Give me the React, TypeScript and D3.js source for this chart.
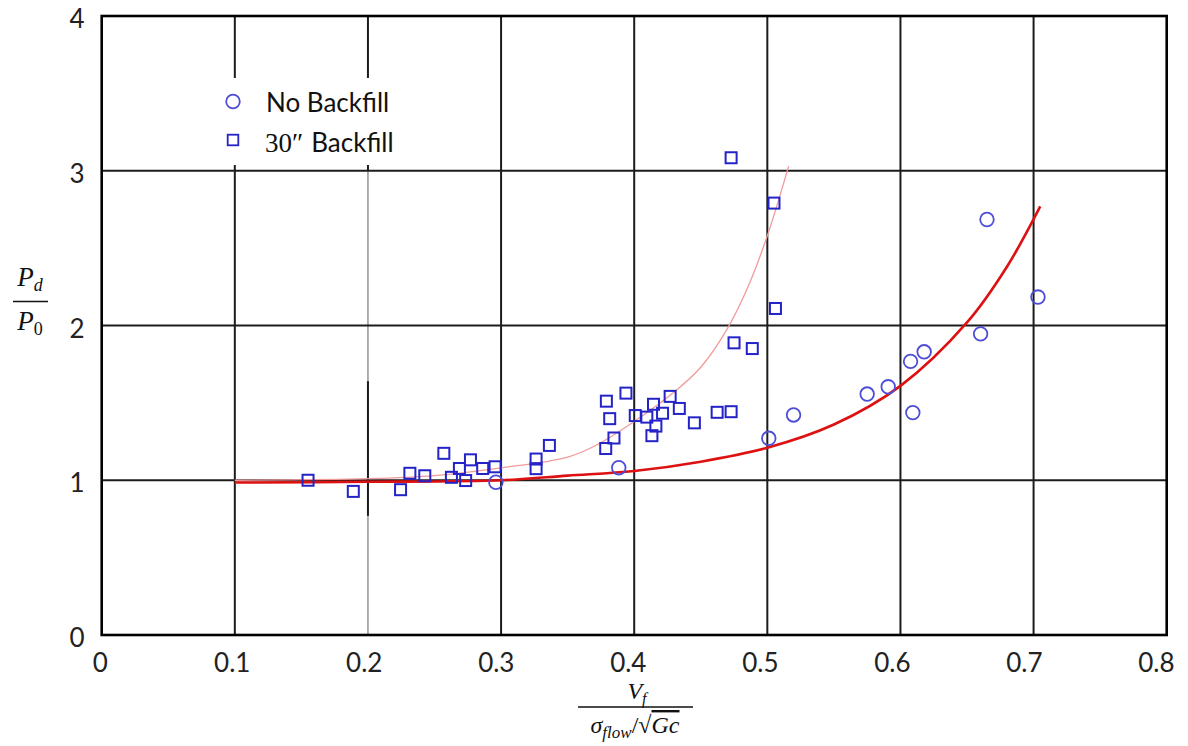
import React from "react";
import * as d3 from "d3";

// ---- data ----
const xTickValues = [0, 0.1, 0.2, 0.3, 0.4, 0.5, 0.6, 0.7, 0.8];
const xTickLabels = ["0", "0.1", "0.2", "0.3", "0.4", "0.5", "0.6", "0.7", "0.8"];
const yTickValues = [0, 1, 2, 3, 4];
const yTickLabels = ["0", "1", "2", "3", "4"];

// 30" Backfill (squares)
const backfillX = [0.155, 0.189, 0.2245, 0.2315, 0.2427, 0.257, 0.2627, 0.2687, 0.2734, 0.277, 0.2862, 0.2955,
  0.3263, 0.3263, 0.3363, 0.3786, 0.3791, 0.3816, 0.3848, 0.3938, 0.4008, 0.4095, 0.4145, 0.4133, 0.4163,
  0.4213, 0.427, 0.4339, 0.4452, 0.4623, 0.4728, 0.4728, 0.475, 0.4887, 0.505, 0.5061];
const backfillY = [1.0, 0.928, 0.939, 1.045, 1.029, 1.174, 1.019, 1.076, 0.998, 1.132, 1.076, 1.087,
  1.137, 1.075, 1.225, 1.205, 1.511, 1.398, 1.273, 1.563, 1.418, 1.408, 1.491, 1.288, 1.35,
  1.433, 1.542, 1.464, 1.371, 1.439, 1.443, 3.084, 1.888, 1.851, 2.791, 2.11];

// No Backfill (circles)
const noBackfillX = [0.2961, 0.3884, 0.5011, 0.5197, 0.575, 0.5908, 0.6076, 0.6093, 0.6178, 0.6602, 0.665, 0.7033];
const noBackfillY = [0.987, 1.081, 1.271, 1.422, 1.557, 1.604, 1.768, 1.437, 1.83, 1.946, 2.685, 2.184];

// fitted curves
const thickCurveX = [0.1, 0.2, 0.3, 0.35, 0.4, 0.45, 0.5, 0.55, 0.6, 0.65, 0.68, 0.705];
const thickCurveY = [0.985, 0.99, 1.0, 1.03, 1.06, 1.12, 1.21, 1.36, 1.61, 2.02, 2.38, 2.77];
const thinCurveX = [0.1, 0.2, 0.25, 0.3, 0.35, 0.37, 0.4, 0.43, 0.45, 0.47, 0.485, 0.5, 0.516];
const thinCurveY = [1.0, 1.01, 1.03, 1.08, 1.15, 1.22, 1.38, 1.57, 1.73, 1.98, 2.24, 2.58, 3.03];

const W = 1188;
const H = 746;

export default function App() {
  const x = d3.scaleLinear().domain([0, 0.8]).range([101.7, 1166.7]);
  const y = d3.scaleLinear().domain([0, 4]).range([635, 16]);

  const line = d3
    .line<[number, number]>()
    .x((d) => x(d[0]))
    .y((d) => y(d[1]))
    .curve(d3.curveCatmullRom.alpha(0.5));

  const thick = line(thickCurveX.map((v, i) => [v, thickCurveY[i]] as [number, number])) || "";
  const thin = line(thinCurveX.map((v, i) => [v, thinCurveY[i]] as [number, number])) || "";

  const gridColor = "#1c1c1c";
  const sqColor = "#2323c8";
  const ciColor = "#4d4dd6";
  const sq = 11;

  const innerX = xTickValues.slice(1, -1);
  const innerY = yTickValues.slice(1, -1);

  const mathFont = "'Liberation Serif', 'DejaVu Serif', serif";
  const sansFont = "Lato, 'Open Sans', sans-serif";

  return (
    <svg width={W} height={H} style={{ position: "absolute", left: 0, top: 0, background: "#fff" }}>
      <rect x={0} y={0} width={W} height={H} fill="#fff" />
      {/* vertical grid */}
      {innerX.map((v) =>
        Math.abs(v - 0.2) < 1e-9 ? (
          <g key={v}>
            <line x1={x(v)} x2={x(v)} y1={y(0)} y2={y(3)} stroke="#9a9a9a" strokeWidth={1.6} />
            <line x1={x(v)} x2={x(v)} y1={y(0.77)} y2={y(1.64)} stroke={gridColor} strokeWidth={2} />
            <line x1={x(v)} x2={x(v)} y1={y(3)} y2={y(4)} stroke={gridColor} strokeWidth={2} />
          </g>
        ) : (
          <line key={v} x1={x(v)} x2={x(v)} y1={y(0)} y2={y(4)} stroke={gridColor} strokeWidth={2} />
        )
      )}
      {/* legend background cutting grid */}
      <rect x={212} y={78} width={232} height={87} fill="#fff" />
      {/* horizontal grid */}
      {innerY.map((v) => (
        <line key={v} x1={x(0)} x2={x(0.8)} y1={y(v)} y2={y(v)} stroke={gridColor} strokeWidth={2} />
      ))}
      {/* frame */}
      <rect x={x(0)} y={y(4)} width={x(0.8) - x(0)} height={y(0) - y(4)} fill="none" stroke="#000" strokeWidth={2.6} />

      {/* curves */}
      <path d={thin} fill="none" stroke="#f29a9a" strokeWidth={1.3} />
      <path d={thick} fill="none" stroke="#dd1111" strokeWidth={2.6} />

      {/* markers */}
      {noBackfillX.map((v, i) => (
        <circle key={"c" + i} cx={x(v)} cy={y(noBackfillY[i])} r={6.8} fill="none" stroke={ciColor} strokeWidth={1.8} />
      ))}
      {backfillX.map((v, i) => (
        <rect key={"s" + i} x={x(v) - sq / 2} y={y(backfillY[i]) - sq / 2} width={sq} height={sq} fill="none" stroke={sqColor} strokeWidth={2} />
      ))}

      {/* tick labels */}
      {xTickValues.map((v, i) => (
        <text key={"xt" + i} x={x(v) - 11 * v - 1.5} y={671.5} textAnchor="middle" fontFamily={sansFont} fontSize={26} fill="#222">
          {xTickLabels[i]}
        </text>
      ))}
      {yTickValues.map((v, i) => (
        <text key={"yt" + i} x={77} y={y(v) + 12} textAnchor="middle" fontFamily={sansFont} fontSize={26} fill="#222">
          {yTickLabels[i]}
        </text>
      ))}

      {/* legend */}
      <circle cx={233} cy={101.5} r={6.8} fill="none" stroke={ciColor} strokeWidth={1.8} />
      <text x={266} y={111.5} fontFamily={sansFont} fontSize={26} fill="#111">No Backfill</text>
      <rect x={233 - 5.3} y={140 - 5.3} width={10.6} height={10.6} fill="none" stroke={sqColor} strokeWidth={1.8} />
      <text x={265} y={152} fontSize={27} fill="#111">
        <tspan fontFamily={mathFont}>30″</tspan>
        <tspan fontFamily={sansFont} fontSize={26} dx={8}>Backfill</tspan>
      </text>

      {/* y axis label */}
      <text x={30} y={286} textAnchor="middle" fontFamily={mathFont} fontSize={27} fill="#111">
        <tspan fontStyle="italic">P</tspan>
        <tspan fontStyle="italic" fontSize={18} dy={5}>d</tspan>
      </text>
      <line x1={13} x2={48} y1={301.5} y2={301.5} stroke="#111" strokeWidth={1.6} />
      <text x={30} y={330} textAnchor="middle" fontFamily={mathFont} fontSize={27} fill="#111">
        <tspan fontStyle="italic">P</tspan>
        <tspan fontSize={18} dy={5}>0</tspan>
      </text>

      {/* x axis label */}
      <text x={637} y={699} textAnchor="middle" fontFamily={mathFont} fontSize={24} fill="#111">
        <tspan fontStyle="italic">V</tspan>
        <tspan fontStyle="italic" fontSize={16} dy={5}>f</tspan>
      </text>
      <line x1={578} x2={693} y1={707} y2={707} stroke="#111" strokeWidth={1.5} />
      <text x={635} y={733} textAnchor="middle" fontFamily={mathFont} fontSize={24} fill="#111">
        <tspan fontStyle="italic">σ</tspan>
        <tspan fontStyle="italic" fontSize={17} dy={5}>flow</tspan>
        <tspan dy={-5}>/√</tspan>
        <tspan fontStyle="italic" style={{ textDecoration: "overline" }}>Gc</tspan>
      </text>
    </svg>
  );
}
